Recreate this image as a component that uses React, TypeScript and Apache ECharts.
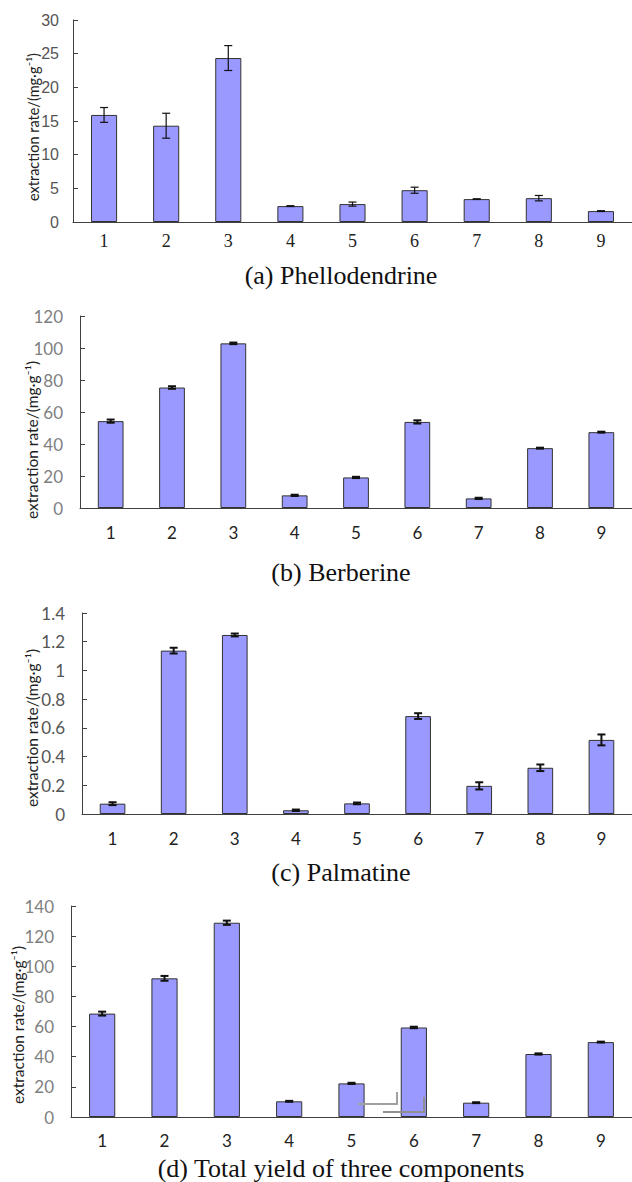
import React, { useEffect, useRef } from "react";
import * as echarts from "echarts";

const categories = ["1", "2", "3", "4", "5", "6", "7", "8", "9"];

const phelloValues = [15.9, 14.3, 24.35, 2.36, 2.66, 4.72, 3.4, 3.54, 1.62];
const phelloErrors = [1.1, 1.85, 1.85, 0.06, 0.3, 0.45, 0.05, 0.4, 0.06];

const berberValues = [54.3, 75.3, 102.9, 7.9, 19.1, 53.8, 6.0, 37.4, 47.4];
const berberErrors = [1.0, 0.8, 0.5, 0.4, 0.4, 1.0, 0.4, 0.3, 0.3];

const palmValues = [0.072, 1.138, 1.247, 0.026, 0.074, 0.682, 0.196, 0.322, 0.516];
const palmErrors = [0.01, 0.02, 0.01, 0.005, 0.006, 0.02, 0.025, 0.023, 0.038];

const totalValues = [68.6, 92.0, 128.9, 10.4, 22.3, 59.4, 9.5, 41.8, 49.7];
const totalErrors = [1.3, 1.6, 1.4, 0.3, 0.4, 0.5, 0.3, 0.4, 0.3];

const yMax = [30, 120, 1.4, 140];
const yInterval = [5, 20, 0.2, 20];

const panelTitles = [
  "(a) Phellodendrine",
  "(b) Berberine",
  "(c) Palmatine",
  "(d) Total yield of three components",
];
const yName = "extraction rate/(mg·g⁻¹)";

export default function App() {
  const ref = useRef<HTMLDivElement>(null);
  useEffect(() => {
    document.body.style.margin = "0";
    if (!ref.current) return;
    const chart = echarts.init(ref.current, null, { renderer: "svg" });

    const values = [phelloValues, berberValues, palmValues, totalValues];
    const errors = [phelloErrors, berberErrors, palmErrors, totalErrors];

    const grids = [
      { left: 73, top: 20, width: 559, height: 202 },
      { left: 80, top: 316, width: 552, height: 192 },
      { left: 82, top: 613, width: 550, height: 201 },
      { left: 71, top: 906, width: 561, height: 211 },
    ];
    const yLabelFont = ["Liberation Sans", "Lato", "Lato", "Lato"];
    const yLabelColor = ["#555", "#7f7f7f", "#555", "#7f7f7f"];
    const xLabelFont = ["Liberation Serif", "Lato", "Lato", "Lato"];
    const xLabelMargin = [10, 16, 16, 15];
    const errWidth = [1.2, 2, 2, 2];

    const xAxes = grids.map((_, i) => ({
      type: "category",
      gridIndex: i,
      data: categories,
      boundaryGap: true,
      axisLine: { lineStyle: { color: "#404040", width: 1 } },
      axisTick: { inside: true, length: 6, lineStyle: { color: "#404040" } },
      axisLabel: {
        color: "#222",
        fontSize: i === 0 ? 18 : 17,
        fontFamily: xLabelFont[i],
        margin: xLabelMargin[i],
      },
    }));
    const yAxes = grids.map((_, i) => ({
      type: "value",
      gridIndex: i,
      min: 0,
      max: yMax[i],
      interval: yInterval[i],
      axisLine: { show: true, lineStyle: { color: "#404040", width: 1 } },
      axisTick: { show: true, inside: true, length: 5, lineStyle: { color: "#404040" } },
      splitLine: { show: false },
      axisLabel: {
        color: yLabelColor[i],
        fontSize: i === 0 ? 16 : 17,
        fontFamily: yLabelFont[i],
        margin: i === 0 ? 14 : 17,
      },
    }));

    const series: any[] = [];
    values.forEach((vals, i) => {
      series.push({
        type: "bar",
        xAxisIndex: i,
        yAxisIndex: i,
        data: vals,
        barWidth: "42%",
        itemStyle: { color: "#9999ff", borderColor: "#333", borderWidth: 1 },
        z: 2,
      });
      series.push({
        type: "custom",
        xAxisIndex: i,
        yAxisIndex: i,
        z: 3,
        data: vals.map((v, k) => [k, v, errors[i][k]]),
        renderItem: (params: any, api: any) => {
          const x = api.value(0);
          const v = api.value(1);
          const e = api.value(2);
          const top = api.coord([x, v + e]);
          const bot = api.coord([x, v - e]);
          const hw = 4;
          const style = { stroke: "#111", lineWidth: errWidth[i] };
          return {
            type: "group",
            children: [
              { type: "line", shape: { x1: top[0], y1: top[1], x2: bot[0], y2: bot[1] }, style },
              { type: "line", shape: { x1: top[0] - hw, y1: top[1], x2: top[0] + hw, y2: top[1] }, style },
              { type: "line", shape: { x1: bot[0] - hw, y1: bot[1], x2: bot[0] + hw, y2: bot[1] }, style },
            ],
          };
        },
      });
    });

    const nameCenters = [
      [33, 127],
      [32, 440],
      [32, 728],
      [18, 1025],
    ];
    const nameSizes = [14.5, 15.5, 15.5, 15.5];
    const titleY = [275, 572, 872, 1168];

    const graphics: any[] = [];
    nameCenters.forEach(([x, y], i) => {
      graphics.push({
        type: "text",
        x,
        y,
        rotation: Math.PI / 2,
        style: {
          text: yName,
          fill: "#222",
          font: `${nameSizes[i]}px Lato`,
          textAlign: "center",
          textVerticalAlign: "middle",
        },
      });
    });
    titleY.forEach((y, i) => {
      graphics.push({
        type: "text",
        x: 341,
        y,
        style: {
          text: panelTitles[i],
          fill: "#111",
          font: "26px 'Liberation Serif'",
          textAlign: "center",
          textVerticalAlign: "middle",
        },
      });
    });
    // scanning artifact in panel (d)
    graphics.push({
      type: "polyline",
      shape: { points: [[358, 1104], [397, 1104], [397, 1092]] },
      style: { stroke: "#a0a0a0", lineWidth: 2, fill: "none" },
      z: 10,
    });
    graphics.push({
      type: "polyline",
      shape: { points: [[383, 1112], [424, 1112], [424, 1097]] },
      style: { stroke: "#909090", lineWidth: 2, fill: "none" },
      z: 10,
    });

    chart.setOption({
      animation: false,
      backgroundColor: "#fff",
      grid: grids,
      xAxis: xAxes,
      yAxis: yAxes,
      series,
      graphic: graphics,
    });
    return () => chart.dispose();
  }, []);
  return <div ref={ref} style={{ width: 632, height: 1182 }} />;
}
